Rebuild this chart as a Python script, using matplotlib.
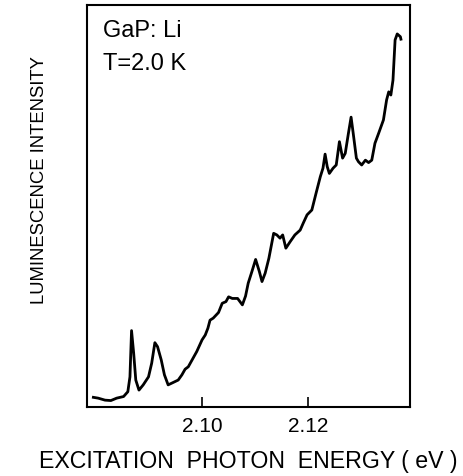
import numpy as np
import matplotlib
matplotlib.use("Agg")
import matplotlib.pyplot as plt

plt.rcParams["font.family"] = ["Liberation Sans", "DejaVu Sans"]

# photon energy (eV) and luminescence intensity (arb. units)
energy = [2.0795, 2.0804, 2.0817, 2.0828, 2.0839, 2.0852, 2.0860, 2.0864, 2.0867, 2.0871,
          2.0875, 2.0881, 2.0889, 2.0899, 2.0905, 2.0911, 2.0916, 2.0923, 2.0929, 2.0936,
          2.0944, 2.0955, 2.0962, 2.0968, 2.0974, 2.0982, 2.0990, 2.1000, 2.1006, 2.1011,
          2.1015, 2.1021, 2.1031, 2.1038, 2.1045, 2.1050, 2.1057, 2.1067, 2.1076, 2.1082,
          2.1087, 2.1094, 2.1101, 2.1108, 2.1113, 2.1119, 2.1126, 2.1135, 2.1141, 2.1147,
          2.1152, 2.1158, 2.1166, 2.1175, 2.1185, 2.1191, 2.1198, 2.1207, 2.1215, 2.1223,
          2.1228, 2.1232, 2.1236, 2.1240, 2.1247, 2.1253, 2.1259, 2.1265, 2.1270, 2.1276,
          2.1281, 2.1285, 2.1291, 2.1295, 2.1301, 2.1308, 2.1314, 2.1320, 2.1326, 2.1333,
          2.1342, 2.1348, 2.1352, 2.1356, 2.1360, 2.1362, 2.1364, 2.1368, 2.1374, 2.1375]
intensity = [2.4, 2.2, 1.7, 1.6, 2.2, 2.6, 3.8, 7.5, 19.0, 13.4,
             6.7, 4.2, 5.5, 7.5, 10.9, 16.0, 15.0, 11.7, 8.0, 5.5,
             6.0, 6.7, 8.0, 9.4, 10.0, 11.9, 13.8, 16.7, 17.9, 19.6,
             21.6, 22.1, 23.5, 25.8, 26.2, 27.4, 27.0, 27.0, 25.4, 27.6,
             30.8, 33.7, 36.7, 33.7, 31.2, 33.3, 37.0, 43.2, 42.8, 42.0,
             42.8, 39.5, 41.1, 42.8, 44.0, 45.8, 47.8, 49.0, 53.2, 57.3,
             59.4, 62.9, 59.8, 58.1, 59.4, 60.2, 66.0, 61.9, 63.1, 68.1,
             72.1, 68.1, 61.9, 61.0, 60.2, 61.4, 60.8, 61.4, 65.6, 68.1,
             71.4, 76.4, 78.4, 77.6, 81.3, 86.3, 91.3, 92.8, 92.1, 91.5]

xticks = [2.10, 2.12]
xtick_labels = ["2.10", "2.12"]

fig = plt.figure(figsize=(4.64, 4.76), dpi=100)
ax = fig.add_axes([0.1875, 0.145, 0.696, 0.8445])

ax.plot(energy, intensity, color="black", linewidth=2.0)

ax.set_xlim(2.0783, 2.1392)
ax.set_ylim(0, 100)
ax.set_xticks(xticks)
ax.set_xticklabels(xtick_labels, fontsize=15)
ax.set_yticks([])
ax.tick_params(axis="x", direction="in", length=7, width=1.2, pad=7)
for s in ax.spines.values():
    s.set_linewidth(1.5)

ax.text(0.048, 0.935, "GaP: Li", transform=ax.transAxes, fontsize=17,
        ha="left", va="center")
ax.text(0.048, 0.852, "T=2.0 K", transform=ax.transAxes, fontsize=17,
        ha="left", va="center")

fig.text(0.086, 0.622, "LUMINESCENCE INTENSITY", rotation=90, fontsize=13.3,
         ha="center", va="center")
fig.text(0.535, 0.03, "EXCITATION  PHOTON  ENERGY ( eV )", fontsize=16.7,
         ha="center", va="center")

fig.savefig("out.png", dpi=100)
